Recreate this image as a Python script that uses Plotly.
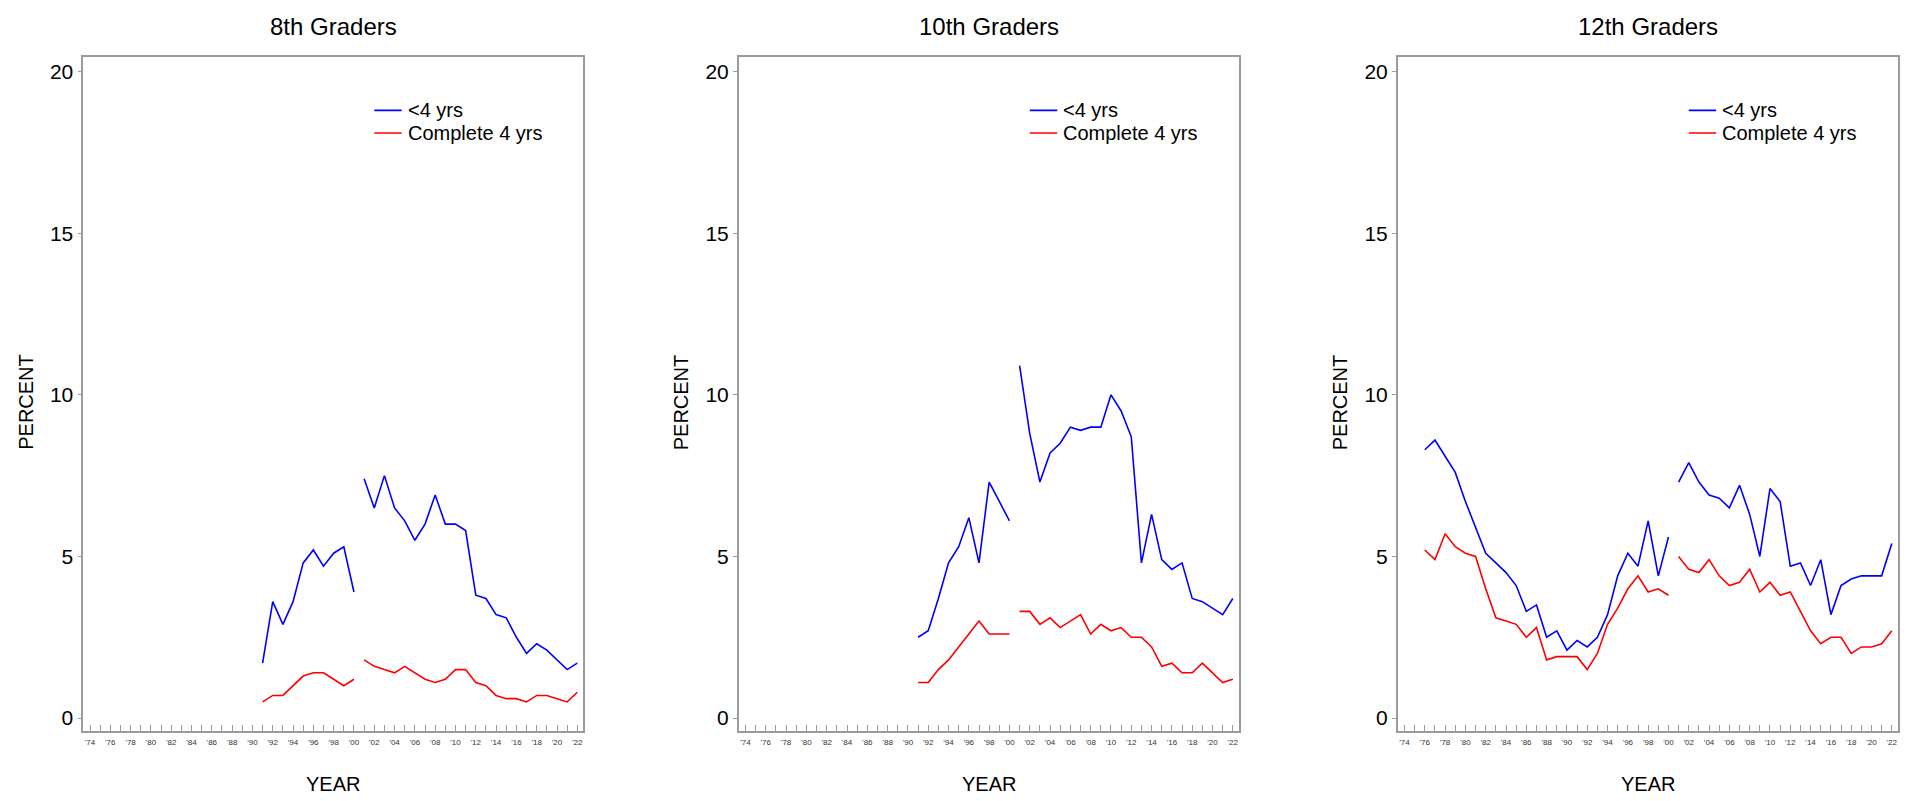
import plotly.graph_objects as go

# ---------------- data ----------------
panel_titles = ["8th Graders", "10th Graders", "12th Graders"]
series_names = ["<4 yrs", "Complete 4 yrs"]

years_8 = list(range(1991, 2023))
less4_8 = [1.7, 3.6, 2.9, 3.6, 4.8, 5.2, 4.7, 5.1, 5.3, 3.9,
           7.4, 6.5, 7.5, 6.5, 6.1, 5.5, 6.0, 6.9, 6.0, 6.0, 5.8,
           3.8, 3.7, 3.2, 3.1, 2.5, 2.0, 2.3, 2.1, 1.8, 1.5, 1.7]
comp4_8 = [0.5, 0.7, 0.7, 1.0, 1.3, 1.4, 1.4, 1.2, 1.0, 1.2,
           1.8, 1.6, 1.5, 1.4, 1.6, 1.4, 1.2, 1.1, 1.2, 1.5, 1.5,
           1.1, 1.0, 0.7, 0.6, 0.6, 0.5, 0.7, 0.7, 0.6, 0.5, 0.8]

years_10 = list(range(1991, 2023))
less4_10 = [2.5, 2.7, 3.7, 4.8, 5.3, 6.2, 4.8, 7.3, 6.7, 6.1,
            10.9, 8.8, 7.3, 8.2, 8.5, 9.0, 8.9, 9.0, 9.0, 10.0, 9.5,
            8.7, 4.8, 6.3, 4.9, 4.6, 4.8, 3.7, 3.6, 3.4, 3.2, 3.7]
comp4_10 = [1.1, 1.1, 1.5, 1.8, 2.2, 2.6, 3.0, 2.6, 2.6, 2.6,
            3.3, 3.3, 2.9, 3.1, 2.8, 3.0, 3.2, 2.6, 2.9, 2.7, 2.8,
            2.5, 2.5, 2.2, 1.6, 1.7, 1.4, 1.4, 1.7, 1.4, 1.1, 1.2]

years_12 = list(range(1976, 2023))
less4_12 = [8.3, 8.6, 8.1, 7.6, 6.7, 5.9, 5.1, 4.8, 4.5, 4.1,
            3.3, 3.5, 2.5, 2.7, 2.1, 2.4, 2.2, 2.5, 3.2, 4.4,
            5.1, 4.7, 6.1, 4.4, 5.6,
            7.3, 7.9, 7.3, 6.9, 6.8, 6.5, 7.2, 6.3, 5.0, 7.1, 6.7,
            4.7, 4.8, 4.1, 4.9, 3.2, 4.1, 4.3, 4.4, 4.4, 4.4, 5.4]
comp4_12 = [5.2, 4.9, 5.7, 5.3, 5.1, 5.0, 4.0, 3.1, 3.0, 2.9,
            2.5, 2.8, 1.8, 1.9, 1.9, 1.9, 1.5, 2.0, 2.9, 3.4,
            4.0, 4.4, 3.9, 4.0, 3.8,
            5.0, 4.6, 4.5, 4.9, 4.4, 4.1, 4.2, 4.6, 3.9, 4.2, 3.8,
            3.9, 3.3, 2.7, 2.3, 2.5, 2.5, 2.0, 2.2, 2.2, 2.3, 2.7]

break_after_year = 2000  # series break between 2000 and 2001

tick_years = list(range(1974, 2023))
tick_text = [("'%02d" % (y % 100)) if (y % 2 == 0) else "" for y in tick_years]
y_ticks = [0, 5, 10, 15, 20]

# ---------------- layout constants ----------------
W, H = 1915, 801
FONT = "Arial, Liberation Sans, sans-serif"
colors = ["#0000ff", "#ff0000"]
panel_left_px = [75.3, 730.8, 1389.8]
panel_w_px = 500
plot_top_px, plot_bot_px = 49, 723
legend_rows_y = [18.8, 18.1]          # legend rows, in data units
legend_line_x = (2002.0, 2004.7)      # legend key line, in data units
legend_text_x = 2005.1

panels = [
    (years_8, [less4_8, comp4_8]),
    (years_10, [less4_10, comp4_10]),
    (years_12, [less4_12, comp4_12]),
]

fig = go.Figure()
annotations = []
shapes = []
layout = dict(
    width=W, height=H,
    margin=dict(l=0, r=0, t=0, b=0),
    paper_bgcolor="white", plot_bgcolor="white",
    font=dict(family=FONT, color="black"),
    showlegend=False,
)

for i, (years, series) in enumerate(panels):
    ax = "" if i == 0 else str(i + 1)
    xref, yref = "x" + ax, "y" + ax
    for s, (name, vals) in enumerate(zip(series_names, series)):
        seg1 = [(y, v) for y, v in zip(years, vals) if y <= break_after_year]
        seg2 = [(y, v) for y, v in zip(years, vals) if y > break_after_year]
        for seg in [seg1, seg2]:
            fig.add_trace(go.Scatter(
                x=[p[0] for p in seg], y=[p[1] for p in seg],
                mode="lines", name=name,
                line=dict(color=colors[s], width=1.6),
                xaxis=xref, yaxis=yref, showlegend=False,
            ))
        # legend key (line + label)
        shapes.append(dict(
            type="line", xref=xref, yref=yref,
            x0=legend_line_x[0], x1=legend_line_x[1],
            y0=legend_rows_y[s], y1=legend_rows_y[s],
            line=dict(color=colors[s], width=1.6)))
        annotations.append(dict(
            text=name, x=legend_text_x, y=legend_rows_y[s],
            xref=xref, yref=yref, xanchor="left", yanchor="middle",
            showarrow=False, font=dict(size=20, family=FONT, color="black")))
    x0 = panel_left_px[i] / W
    x1 = (panel_left_px[i] + panel_w_px) / W
    layout["xaxis" + ax] = dict(
        domain=[x0, x1], range=[1973.34, 2022.59], anchor=yref,
        showline=True, linecolor="#9a9a9a", linewidth=1.6, mirror=True,
        showgrid=False, zeroline=False,
        tickmode="array", tickvals=tick_years, ticktext=tick_text,
        ticks="inside", ticklen=6, tickwidth=1, tickcolor="#9a9a9a",
        tickfont=dict(size=8, color="#333333", family=FONT),
        ticklabelstandoff=3,
    )
    layout["yaxis" + ax] = dict(
        domain=[1 - plot_bot_px / H, 1 - plot_top_px / H],
        range=[-0.40, 20.45], anchor=xref,
        showline=True, linecolor="#9a9a9a", linewidth=1.6, mirror=True,
        showgrid=False, zeroline=False,
        tickmode="array", tickvals=y_ticks,
        ticks="outside", ticklen=4, tickwidth=1, tickcolor="#9a9a9a",
        tickfont=dict(size=21, color="black", family=FONT),
    )
    cx = (panel_left_px[i] + panel_w_px / 2) / W
    annotations.append(dict(
        text=panel_titles[i], x=cx, y=1 - 18 / H, xref="paper", yref="paper",
        xanchor="center", yanchor="middle", showarrow=False,
        font=dict(size=24, family=FONT, color="black")))
    annotations.append(dict(
        text="YEAR", x=cx, y=1 - 776 / H, xref="paper", yref="paper",
        xanchor="center", yanchor="middle", showarrow=False,
        font=dict(size=20, family=FONT, color="black")))
    annotations.append(dict(
        text="PERCENT", x=(panel_left_px[i] - 57.5) / W, y=1 - 394 / H,
        xref="paper", yref="paper", textangle=-90,
        xanchor="center", yanchor="middle", showarrow=False,
        font=dict(size=20, family=FONT, color="black")))

layout["annotations"] = annotations
layout["shapes"] = shapes
fig.update_layout(**layout)
fig.write_html("out.html")
